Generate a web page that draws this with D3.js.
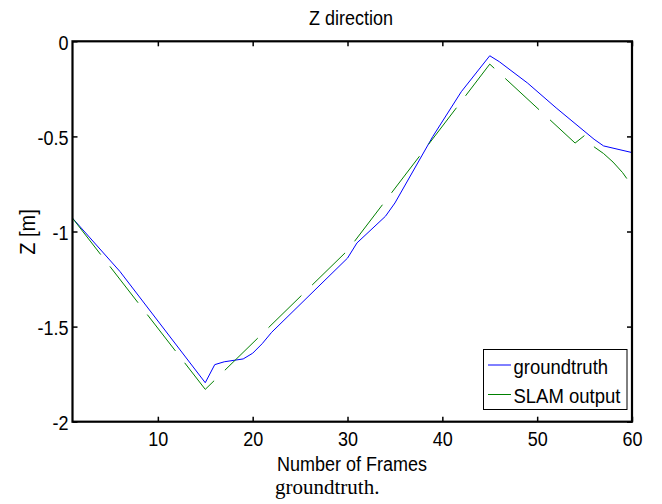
<!DOCTYPE html>
<html>
<head>
<meta charset="utf-8">
<script src="https://cdn.jsdelivr.net/npm/d3@7"></script>
<style>
  body { margin: 0; background: #fff; }
  text { font-family: "Liberation Sans", Arial, sans-serif; fill: #000; }
  /* the source figure's lettering is a bit taller than Arial, stretch around the baseline */
  text.tall { transform-box: fill-box; transform-origin: 50% 81%; transform: scaleY(1.1); }
</style>
</head>
<body>
<script>
// frames / Z values
const gtFrames = [1, 6, 15, 16, 17, 19, 20, 21, 22, 30, 31, 34, 35, 39, 42, 45, 46, 49, 52, 56, 57, 60];
const gtZ = [-0.93, -1.21, -1.795, -1.70, -1.685, -1.67, -1.64, -1.59, -1.53, -1.14, -1.06, -0.92, -0.85, -0.50, -0.265, -0.076, -0.107, -0.22, -0.35, -0.515, -0.55, -0.585];

const slamFrames = [1, 15, 30, 45, 54, 55, 56, 57, 58, 59, 60];
const slamZ = [-0.93, -1.83, -1.10, -0.12, -0.535, -0.495, -0.555, -0.59, -0.635, -0.69, -0.76];

const xTicks = [10, 20, 30, 40, 50, 60];
const yTicks = [0, -0.5, -1, -1.5, -2];
const yTickLabels = ['0', '-0.5', '-1', '-1.5', '-2'];

const seriesNames = ['groundtruth', 'SLAM output'];
const seriesColors = ['#0000ff', '#008000'];

const width = 662, height = 504;
const box = {left: 72.5, right: 632, top: 41.3, bottom: 421.7};

const svg = d3.select('body').append('svg')
  .attr('width', width)
  .attr('height', height);

const x = d3.scaleLinear().domain([1, 60]).range([box.left, box.right]);
const y = d3.scaleLinear().domain([-2, 0]).range([box.bottom, box.top]);

const line = d3.line()
  .x(d => x(d[0]))
  .y(d => y(d[1]));

const gt = gtFrames.map((f, i) => [f, gtZ[i]]);
const slam = slamFrames.map((f, i) => [f, slamZ[i]]);

svg.append('path')
  .datum(gt)
  .attr('d', line)
  .attr('fill', 'none')
  .attr('stroke', seriesColors[0])
  .attr('stroke-width', 1);

svg.append('path')
  .datum(slam)
  .attr('d', line)
  .attr('fill', 'none')
  .attr('stroke', seriesColors[1])
  .attr('stroke-width', 1)
  .attr('stroke-dasharray', '46,15');

// axes, ticks pointing inward like matlab
const fontSize = 18;

const xAxis = d3.axisBottom(x).tickValues(xTicks).tickSizeInner(-5).tickSizeOuter(0).tickPadding(11.5).tickFormat(d => String(d));
const xTop = d3.axisTop(x).tickValues(xTicks).tickSizeInner(-5).tickSizeOuter(0).tickFormat('');
const yAxis = d3.axisLeft(y).tickValues(yTicks).tickSizeInner(-5).tickSizeOuter(0).tickPadding(4)
  .tickFormat((d, i) => yTickLabels[i]);
const yRight = d3.axisRight(y).tickValues(yTicks).tickSizeInner(-5).tickSizeOuter(0).tickFormat('');

function styleAxis(g) {
  g.select('.domain').remove();
  g.selectAll('.tick line').attr('stroke', '#000').attr('stroke-width', 1.5);
  g.selectAll('.tick text')
    .attr('class', 'tall')
    .attr('font-size', fontSize)
    .attr('font-family', '"Liberation Sans", Arial, sans-serif')
    .attr('fill', '#000');
}

svg.append('g').attr('transform', 'translate(0,' + box.bottom + ')').call(xAxis).call(styleAxis);
svg.append('g').attr('transform', 'translate(0,' + box.top + ')').call(xTop).call(styleAxis);
svg.append('g').attr('transform', 'translate(' + box.left + ',0)').call(yAxis).call(styleAxis)
  .selectAll('.tick text').attr('dy', '0.44em');
svg.append('g').attr('transform', 'translate(' + box.right + ',0)').call(yRight).call(styleAxis);

svg.append('rect')
  .attr('x', box.left)
  .attr('y', box.top)
  .attr('width', box.right - box.left)
  .attr('height', box.bottom - box.top)
  .attr('fill', 'none')
  .attr('stroke', '#000')
  .attr('stroke-width', 2.2);

// titles
svg.append('text')
  .attr('class', 'tall')
  .attr('x', 351)
  .attr('y', 25)
  .attr('text-anchor', 'middle')
  .attr('font-size', fontSize)
  .text('Z direction');

svg.append('text')
  .attr('class', 'tall')
  .attr('x', 352)
  .attr('y', 471)
  .attr('text-anchor', 'middle')
  .attr('font-size', fontSize)
  .text('Number of Frames');

svg.append('g')
  .attr('transform', 'translate(35,232) rotate(-90)')
  .append('text')
  .attr('class', 'tall')
  .attr('text-anchor', 'middle')
  .attr('font-size', 20)
  .text('Z [m]');

svg.append('text')
  .attr('x', 275)
  .attr('y', 494)
  .attr('font-size', 21)
  .style('font-family', '"Liberation Serif", "Times New Roman", serif')
  .text('groundtruth.');

// legend
const legend = svg.append('g');
legend.append('rect')
  .attr('x', 483.5)
  .attr('y', 349.5)
  .attr('width', 143.5)
  .attr('height', 60)
  .attr('fill', '#fff')
  .attr('stroke', '#000')
  .attr('stroke-width', 1);

const items = legend.selectAll('g.item')
  .data(seriesNames)
  .enter().append('g')
  .attr('class', 'item')
  .attr('transform', (d, i) => 'translate(0,' + (i * 29.5) + ')');

items.append('line')
  .attr('x1', 488)
  .attr('x2', 511)
  .attr('y1', 365)
  .attr('y2', 365)
  .attr('stroke', (d, i) => seriesColors[i])
  .attr('stroke-width', 1);

items.append('text')
  .attr('class', 'tall')
  .attr('x', 513.5)
  .attr('y', 373.5)
  .attr('font-size', 18.5)
  .text(d => d);
</script>
</body>
</html>
